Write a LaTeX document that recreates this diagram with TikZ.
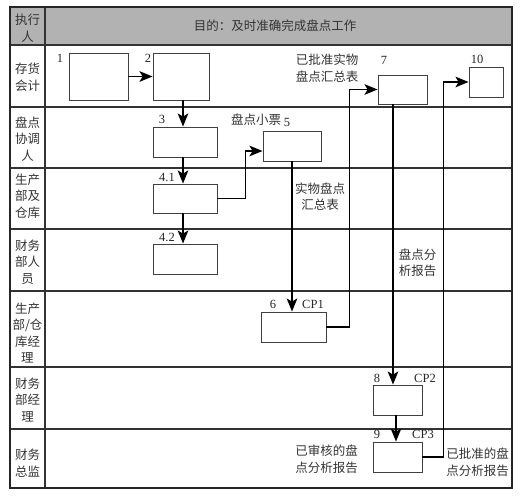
\documentclass[tikz,border=0pt]{standalone}
\usepackage{fontspec}
\setmainfont{Liberation Serif}
\newfontfamily\cjk{Noto Sans CJK SC}
\usetikzlibrary{arrows.meta,calc}
\begin{document}
\begin{tikzpicture}[x=1pt,y=-1pt,
  gridline/.style={draw=black!80, line width=1.1pt},
  box/.style={draw=black!75, line width=0.9pt, fill=white, rectangle, inner sep=0pt},
  arr/.style={line width=1.9pt, -{Stealth[length=13pt,width=10.5pt,inset=3pt]}},
  cn/.style={font=\cjk\fontsize{12.5}{16.5}\selectfont, text=black!80, align=center, inner sep=0pt},
  num/.style={font=\fontsize{12.5}{14}\selectfont, text=black!85, inner sep=0pt},
]
\useasboundingbox (0,0) rectangle (527,502);
% header
\fill[black!30] (10,7) rectangle (512,45);
% grid
\foreach \yy in {45,107,168,229,291,367,429}
  \draw[gridline] (10,\yy) -- (512,\yy);
\draw[gridline] (45,7) -- (45,488);
\draw[draw=black!85, line width=1.5pt] (10,7) rectangle (512,488);

% header texts
\node[cn] (h0) at (27.5,28) {执行\\人};
\node[cn] (h1) at (275,26) {目的：及时准确完成盘点工作};
% lane labels
\node[cn] (l1) at (27.5,77) {存货\\会计};
\node[cn] (l2) at (27.5,139) {盘点\\协调\\人};
\node[cn] (l3) at (27.5,196) {生产\\部及\\仓库};
\node[cn] (l4) at (27.5,262) {财务\\部人\\员};
\node[cn] (l5) at (27.5,333) {生产\\部/仓\\库经\\理};
\node[cn] (l6) at (27.5,400) {财务\\部经\\理};
\node[cn] (l7) at (27.5,463) {财务\\总监};

% boxes
\node[box, minimum width=59pt, minimum height=47pt] (b1) at (98.5,76.5) {};
\node[box, minimum width=56pt, minimum height=47pt] (b2) at (181,76.5) {};
\node[box, minimum width=64pt, minimum height=30pt] (b3) at (185,142) {};
\node[box, minimum width=64pt, minimum height=29pt] (b41) at (185,198.5) {};
\node[box, minimum width=64pt, minimum height=30pt] (b42) at (185,259) {};
\node[box, minimum width=58pt, minimum height=30pt] (b5) at (292,146) {};
\node[box, minimum width=65pt, minimum height=30pt] (b6) at (293.5,327) {};
\node[box, minimum width=49pt, minimum height=29pt] (b7) at (402.5,89.5) {};
\node[box, minimum width=49pt, minimum height=30pt] (b8) at (397.5,400) {};
\node[box, minimum width=49pt, minimum height=30pt] (b9) at (397.5,457) {};
\node[box, minimum width=34pt, minimum height=30pt] (b10) at (486,82) {};

% step numbers
\node[num] (n1) at (60,58) {1};
\node[num] (n2) at (148,58) {2};
\node[num] (n3) at (162,119) {3};
\node[num] (n41) at (167,177) {4.1};
\node[num] (n42) at (167,237) {4.2};
\node[num] (n5) at (287,122) {5};
\node[num] (n6) at (273,304) {6};
\node[num] (c1) at (313,304) {CP1};
\node[num] (n7) at (384,60) {7};
\node[num] (n10) at (477,59) {10};
\node[num] (n8) at (377,378) {8};
\node[num] (c2) at (425,378) {CP2};
\node[num] (n9) at (377,434) {9};
\node[num] (c3) at (423,434) {CP3};

% document labels
\node[cn] (t1) at (256,120) {盘点小票};
\node[cn] (t2) at (320,196.5) {实物盘点\\汇总表};
\node[cn] (t3) at (327,68) {已批准实物\\盘点汇总表};
\node[cn] (t4) at (417.5,262.5) {盘点分\\析报告};
\node[cn] (t5) at (326.5,459) {已审核的盘\\点分析报告};
\node[cn] (t6) at (477.5,462) {已批准的盘\\点分析报告};

% connectors
\draw[arr] (b1.east) -- (b2.west);
\draw[arr] ([xshift=2pt]b2.south) -- ([xshift=-2pt]b3.north);
\draw[arr] ([xshift=-2pt]b3.south) -- ([xshift=-2pt]b41.north);
\draw[arr] ([xshift=-2pt]b41.south) -- ([xshift=-2pt]b42.north);
\draw[arr] (b41.east) -- ++(28,0) |- ([yshift=-5pt]b5.west);
\draw[arr] (b5.south) -- (b6.north -| b5.south);
\draw[arr] (b6.east) -- ++(23,0) |- (b7.west);
\draw[arr] ([xshift=-9.5pt]b7.south) -- ([xshift=-4.5pt]b8.north);
\draw[arr] ([xshift=-1.5pt]b8.south) -- ([xshift=-1.5pt]b9.north);
\draw[arr] (b9.east) -- ++(21,0) |- (b10.west);
\end{tikzpicture}
\end{document}
